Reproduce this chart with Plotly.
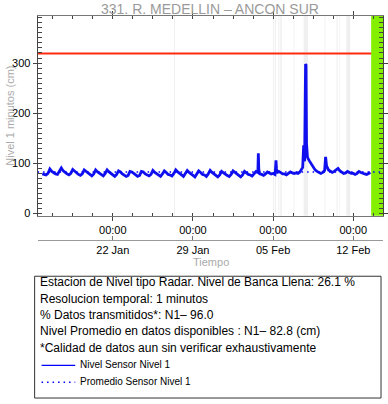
import plotly.graph_objects as go
import pandas as pd

# ---------------- data ----------------
station_title = "331. R. MEDELLIN \u2013 ANCON SUR"
series_start = "2024-01-15 20:00"     # first sample, 4-hour readings
level_cm = [
    79,                          # Jan 15
    78, 77, 80, 89, 84, 81,      # Jan 16
    79, 78, 84, 91, 85, 81,      # Jan 17
    79, 77, 80, 88, 84, 80,      # Jan 18
    78, 76, 79, 87, 84, 80,      # Jan 19
    78, 75, 79, 87, 83, 80,      # Jan 20
    77, 75, 80, 87, 83, 79,      # Jan 21
    77, 74, 78, 85, 83, 79,      # Jan 22
    77, 74, 76, 84, 83, 79,      # Jan 23
    77, 74, 76, 84, 83, 79,      # Jan 24
    77, 75, 78, 86, 82, 79,      # Jan 25
    76, 74, 79, 85, 82, 78,      # Jan 26
    77, 75, 80, 87, 83, 79,      # Jan 27
    77, 74, 79, 86, 82, 78,      # Jan 28
    76, 73, 78, 85, 82, 78,      # Jan 29
    77, 74, 79, 86, 82, 79,      # Jan 30
    76, 73, 77, 84, 81, 78,      # Jan 31
    76, 74, 78, 85, 82, 78,      # Feb 1
    76, 73, 77, 84, 81, 78,      # Feb 2
    77, 75, 79, 84, 82, 79,      # Feb 3
    78, 76, 79, 83, 81, 79,      # Feb 4
    80, 78, 81, 84, 81, 79,      # Feb 5
    79, 77, 80, 83, 81, 80,      # Feb 6
    81, 80, 83, 88, 136, 298,    # Feb 7
    112, 105, 98, 92, 87, 84,    # Feb 8
    82, 80, 82, 86, 95, 87,      # Feb 9
    84, 82, 84, 88, 90, 85,      # Feb 10
    82, 80, 81, 84, 82, 80,      # Feb 11
    80, 78, 80, 84, 82, 80,      # Feb 12
    79, 78, 80, 82,              # Feb 13
]
# extra readings between the 4-hour samples (short peaks)
extra_times = ["2024-02-03 17:00", "2024-02-03 18:00", "2024-02-05 05:00",
               "2024-02-05 06:00", "2024-02-05 07:00", "2024-02-07 14:00",
               "2024-02-07 18:00", "2024-02-07 21:00", "2024-02-07 22:00",
               "2024-02-09 14:00"]
extra_cm = [120, 88, 90, 106, 90, 92, 104, 296, 140, 113]

# periods without transmitted data
gap_start = ["2024-01-27 08:00", "2024-02-05 00:00", "2024-02-05 04:00",
             "2024-02-05 11:00", "2024-02-05 15:00", "2024-02-06 19:00",
             "2024-02-07 16:00", "2024-02-09 12:00", "2024-02-10 12:00",
             "2024-02-10 15:00", "2024-02-10 18:00", "2024-02-11 09:30"]
gap_end = ["2024-01-27 10:00", "2024-02-05 02:00", "2024-02-05 06:00",
           "2024-02-05 13:00", "2024-02-05 18:00", "2024-02-06 20:30",
           "2024-02-08 01:00", "2024-02-09 13:30", "2024-02-10 13:00",
           "2024-02-10 16:00", "2024-02-10 19:00", "2024-02-11 17:30"]

bankfull_cm = 319
average_cm = 82.8
no_data_from = "2024-02-13 13:30"
x_range = ["2024-01-15 10:20", "2024-02-14 14:20"]
y_range = [-4.5, 394]

info_lines = [
    "Estacion de Nivel tipo Radar. Nivel de Banca Llena: 26.1 %",
    "Resolucion temporal: 1 minutos",
    "% Datos transmitidos*: N1\u2013 96.0",
    "Nivel Promedio en datos disponibles : N1\u2013 82.8 (cm)",
    "*Calidad de datos aun sin verificar exhaustivamente",
]
legend_names = ["Nivel Sensor Nivel 1", "Promedio Sensor Nivel 1"]

# ---------------- build series ----------------
t_base = pd.date_range(series_start, periods=len(level_cm), freq="4h")
df = pd.concat([
    pd.DataFrame({"t": t_base, "v": level_cm}),
    pd.DataFrame({"t": pd.to_datetime(extra_times), "v": extra_cm}),
]).sort_values("t")

W, H = 388, 404
def fx(p): return p / W
def fy(p): return 1 - p / H

FONT = "Liberation Sans, Arial, Helvetica, sans-serif"
fig = go.Figure()

fig.add_trace(go.Scatter(x=x_range, y=[average_cm, average_cm], mode="lines",
                         line=dict(color="blue", width=1.6, dash="1.5px,4px"),
                         xaxis="x2", yaxis="y", showlegend=False, hoverinfo="skip"))
fig.add_trace(go.Scatter(x=df["t"], y=df["v"], mode="lines",
                         line=dict(color="#1010ee", width=2.8),
                         showlegend=False))

# gaps
for s, e in zip(gap_start, gap_end):
    fig.add_shape(type="rect", xref="x", yref="y domain", x0=s, x1=e, y0=0, y1=1,
                  fillcolor="rgba(215,215,215,0.4)", line_width=0, layer="below")
# bankfull line
fig.add_shape(type="line", xref="x domain", yref="y", x0=0, x1=1,
              y0=bankfull_cm, y1=bankfull_cm, line=dict(color="#ff2a10", width=2),
              layer="below")
# no data band
fig.add_shape(type="rect", xref="x", yref="y domain", x0=no_data_from, x1=x_range[1],
              y0=0, y1=1, fillcolor="#84f000", line_width=0, layer="below")

axcol = "#444"
fig.update_layout(
    width=W, height=H, margin=dict(l=0, r=0, t=0, b=0),
    paper_bgcolor="white", plot_bgcolor="white",
    font=dict(family=FONT, size=11, color="black"),
    showlegend=False,
    xaxis=dict(
        type="date", range=x_range, domain=[fx(38), fx(387)], anchor="y",
        showgrid=False, zeroline=False, showline=True, linecolor="#777", linewidth=1,
        mirror="allticks", ticks="outside", ticklen=4, tickcolor=axcol,
        tick0="2024-01-22", dtick=7 * 86400000, tickformat="%H:%M",
        tickfont=dict(size=11, color="black"),
        minor=dict(ticks="inside", ticklen=3, tickcolor=axcol,
                   tick0="2024-01-22", dtick=151200000, showgrid=False),
    ),
    xaxis2=dict(
        type="date", range=x_range, domain=[fx(38), fx(387)], anchor="free",
        overlaying="x", position=fy(242), side="bottom",
        showgrid=False, zeroline=False, showline=True, linecolor="#999", linewidth=1,
        ticks="inside", ticklen=4, tickcolor="#777",
        tick0="2024-01-22", dtick=7 * 86400000, tickformat="%d %b",
        tickfont=dict(size=11, color="black"),
    ),
    yaxis=dict(
        range=y_range, domain=[fy(218), fy(16)], anchor="x",
        showgrid=False, zeroline=False, showline=True, linecolor=axcol, linewidth=1,
        mirror="allticks", ticks="outside", ticklen=4, tickcolor=axcol,
        tickmode="linear", tick0=0, dtick=100, tickfont=dict(size=11, color="black"),
        minor=dict(ticks="inside", ticklen=4, tickcolor=axcol, dtick=10, showgrid=False),
    ),
)

ann = []
ann.append(dict(text=station_title, x=fx(212), y=fy(9), xref="paper", yref="paper",
                xanchor="center", yanchor="middle", showarrow=False,
                font=dict(size=14, color="#9a9a9a")))
ann.append(dict(text="Nivel 1 minutos (cm)", x=fx(10), y=fy(117), xref="paper", yref="paper",
                xanchor="center", yanchor="middle", showarrow=False, textangle=-90,
                font=dict(size=11, color="#aaaaaa")))
ann.append(dict(text="Tiempo", x=fx(213), y=fy(265), xref="paper", yref="paper",
                xanchor="center", yanchor="middle", showarrow=False,
                font=dict(size=11, color="#aaaaaa")))
line_y = [285, 302, 318, 334, 351]
for txt, yy in zip(info_lines, line_y):
    ann.append(dict(text=txt, x=fx(38), y=fy(yy), xref="paper", yref="paper",
                    xanchor="left", yanchor="middle", showarrow=False,
                    font=dict(size=12, color="black")))
for name, yy in zip(legend_names, [368, 385]):
    ann.append(dict(text=name, x=fx(79), y=fy(yy), xref="paper", yref="paper",
                    xanchor="left", yanchor="middle", showarrow=False,
                    font=dict(size=10, color="black")))
fig.update_layout(annotations=ann)

# info box and legend samples
fig.add_shape(type="rect", xref="paper", yref="paper", x0=fx(35), x1=fx(385),
              y0=fy(402), y1=fy(279), line=dict(color="#333", width=1), fillcolor="rgba(0,0,0,0)")
fig.add_shape(type="line", xref="paper", yref="paper", x0=fx(42), x1=fx(76),
              y0=fy(369), y1=fy(369), line=dict(color="blue", width=1.2))
fig.add_shape(type="line", xref="paper", yref="paper", x0=fx(42), x1=fx(76),
              y0=fy(386), y1=fy(386), line=dict(color="blue", width=1.6, dash="1.5px,4px"))

fig.write_html("out.html", config={"displayModeBar": False},
               post_script="document.body.style.margin='0';document.body.style.overflow='hidden';")
